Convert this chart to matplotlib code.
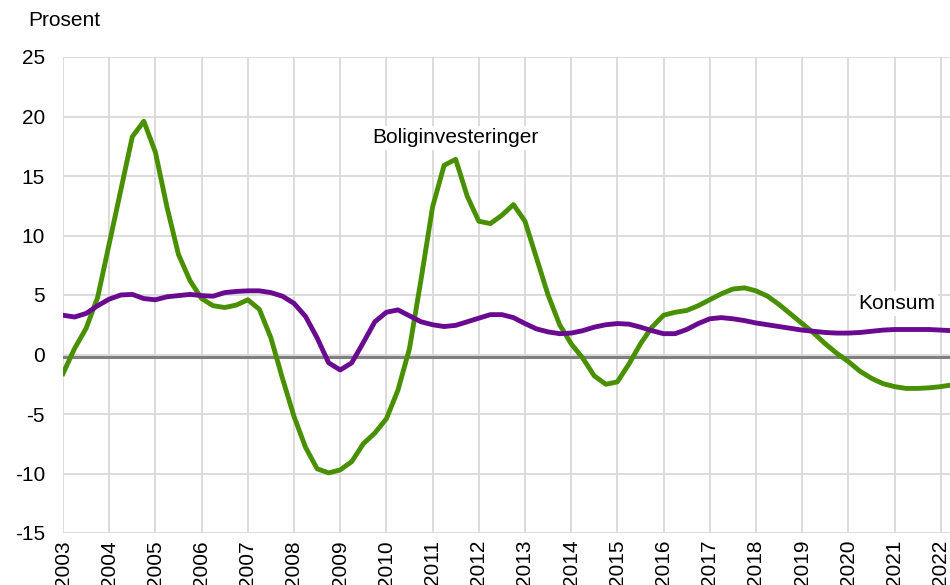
import matplotlib
matplotlib.use('Agg')
import matplotlib.pyplot as plt
import numpy as np

plt.rcParams['font.family'] = ['Liberation Sans', 'DejaVu Sans']
plt.rcParams['axes.unicode_minus'] = False

# quarterly observations, 2003Q1 .. 2022Q2
start_year = 2003
bolig = [
    -1.6, 0.5, 2.2, 4.8, 9.3, 13.8, 18.3, 19.6,
    17.0, 12.4, 8.4, 6.2, 4.7, 4.1, 3.95, 4.15,
    4.6, 3.8, 1.4, -2.0, -5.2, -7.8, -9.6, -9.95,
    -9.7, -9.0, -7.5, -6.6, -5.4, -3.0, 0.5, 6.3,
    12.4, 15.9, 16.4, 13.3, 11.2, 11.0, 11.7, 12.6,
    11.2, 8.1, 5.0, 2.5, 0.9, -0.3, -1.8, -2.5,
    -2.3, -0.8, 0.9, 2.3, 3.3, 3.55, 3.7, 4.1,
    4.6, 5.1, 5.5, 5.6, 5.35, 4.9, 4.2, 3.4,
    2.6, 1.8, 0.9, 0.1, -0.6, -1.4, -2.0, -2.45,
    -2.7, -2.85, -2.85, -2.8, -2.7, -2.55,
]
konsum = [
    3.3, 3.15, 3.45, 4.1, 4.65, 5.0, 5.05, 4.7,
    4.6, 4.85, 4.95, 5.05, 4.95, 4.9, 5.2, 5.3,
    5.35, 5.35, 5.2, 4.9, 4.3, 3.2, 1.4, -0.7,
    -1.3, -0.7, 1.0, 2.75, 3.55, 3.75, 3.25, 2.75,
    2.5, 2.35, 2.45, 2.75, 3.05, 3.35, 3.35, 3.1,
    2.6, 2.15, 1.9, 1.75, 1.8, 2.0, 2.3, 2.5,
    2.6, 2.55, 2.3, 2.0, 1.75, 1.75, 2.1, 2.6,
    3.0, 3.1, 3.0, 2.85, 2.65, 2.5, 2.35, 2.2,
    2.05, 1.95, 1.85, 1.8, 1.8, 1.85, 1.95, 2.05,
    2.1, 2.1, 2.1, 2.1, 2.05, 2.0,
]
years = list(range(2003, 2023))

x = start_year + np.arange(len(bolig)) / 4.0

fig = plt.figure(figsize=(9.5, 5.85), dpi=100)
ax = fig.add_axes([63 / 950, 1 - 533 / 585, 1 - 63 / 950, (533 - 57) / 585])

green = '#489000'
purple = '#6A0A90'

ax.axhline(-0.25, color='#808080', lw=2.2, zorder=2)
ax.plot(x, bolig, color=green, lw=3.5, zorder=3, solid_joinstyle='round')
ax.plot(x, konsum, color=purple, lw=3.5, zorder=4, solid_joinstyle='round')

ax.set_xlim(2003, 2022.2)
ax.set_ylim(-15, 25)
ax.set_yticks(range(-15, 26, 5))
ax.set_xticks(years)
ax.set_xticklabels([str(y) for y in years], rotation=90)
ax.grid(True, color='#D9D9D9', lw=1.3, zorder=0)
ax.set_axisbelow(True)
for s in ax.spines.values():
    s.set_visible(False)
ax.tick_params(length=0, labelsize=15, pad=5)
ax.tick_params(axis='y', pad=13)

ax.text(2011.5, 18.2, 'Boliginvesteringer', ha='center', va='center', fontsize=15,
        bbox=dict(facecolor='white', edgecolor='none', pad=2), zorder=5)
ax.text(2021.05, 4.3, 'Konsum', ha='center', va='center', fontsize=15,
        bbox=dict(facecolor='white', edgecolor='none', pad=2), zorder=5)

fig.text(28 / 950, 1 - 21 / 585, 'Prosent', ha='left', va='center', fontsize=15)

fig.savefig('out.png', dpi=100)
